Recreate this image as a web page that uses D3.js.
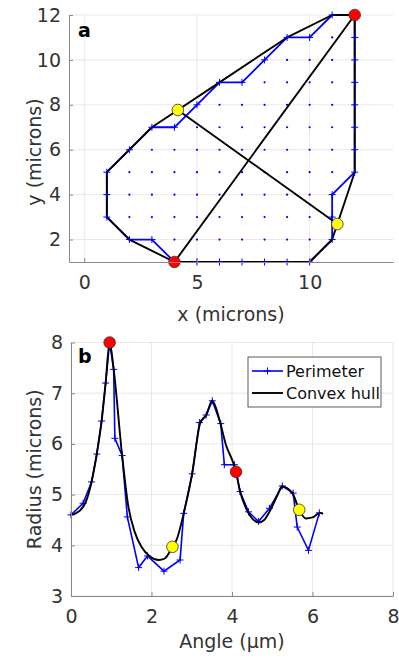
<!DOCTYPE html>
<html>
<head>
<meta charset="utf-8">
<script src="https://cdn.jsdelivr.net/npm/d3@7"></script>
<style>
  body { margin: 0; background: #fff; }
  svg { display: block; font-family: "DejaVu Sans", sans-serif; }
</style>
</head>
<body>
<svg id="chart" width="399" height="660"></svg>
<script>
// ---- panel a: pixel perimeter, hull, chords ----
const perimeterX = [4, 5, 6, 7, 8, 9, 10, 11, 11, 11, 12, 12, 12, 12, 12, 12, 12, 12, 11, 10, 9, 8, 7, 6, 5, 4, 3, 2, 1, 1, 1, 2, 3, 4];
const perimeterY = [1, 1, 1, 1, 1, 1, 1, 2, 3, 4, 5, 6, 7, 8, 9, 10, 11, 12, 12, 11, 11, 10, 9, 9, 8, 7, 7, 6, 5, 4, 3, 2, 2, 1];
const hullX = [4, 10, 11, 12, 12, 11, 9, 6, 3, 1, 1, 2, 4];
const hullY = [1, 1, 2, 5, 12, 12, 11, 9, 7, 5, 3, 2, 1];
// rows of filled pixels: y, first x, last x
const rowY = [1, 2, 3, 4, 5, 6, 7, 8, 9, 10, 11, 12];
const rowStart = [4, 2, 1, 1, 1, 2, 3, 5, 6, 8, 9, 11];
const rowEnd = [10, 11, 11, 11, 12, 12, 12, 12, 12, 12, 12, 12];
const redA = [[4, 1], [12, 12]];
const yellowA = [[4.15, 7.77], [11.23, 2.69]];
const xTicksA = [0, 5, 10];
const yTicksA = [2, 4, 6, 8, 10, 12];

// ---- panel b: radius vs angle ----
const perimAngle = [0.00, 0.30, 0.51, 0.64, 0.76, 0.86, 0.96, 1.06, 1.09, 1.27, 1.40, 1.68, 1.90, 2.31, 2.71, 2.80, 3.01, 3.19, 3.36, 3.51, 3.72, 3.81, 4.06, 4.10, 4.20, 4.41, 4.66, 4.93, 5.25, 5.52, 5.62, 5.90, 6.17];
const perimRadius = [4.60, 4.83, 5.25, 5.80, 6.45, 7.20, 8.00, 7.47, 6.11, 5.77, 4.56, 3.56, 3.79, 3.49, 3.71, 4.63, 5.41, 6.42, 6.57, 6.85, 6.40, 5.59, 5.59, 5.45, 5.06, 4.66, 4.47, 4.73, 5.17, 5.03, 4.36, 3.90, 4.64];
const hullAngle = [0.00, 0.18, 0.36, 0.51, 0.64, 0.76, 0.86, 0.96, 1.06, 1.27, 1.42, 1.58, 1.75, 1.96, 2.18, 2.33, 2.52, 2.62, 2.80, 3.01, 3.21, 3.36, 3.51, 3.69, 3.85, 4.02, 4.10, 4.20, 4.35, 4.50, 4.66, 4.80, 4.93, 5.13, 5.24, 5.50, 5.67, 5.83, 6.00, 6.18, 6.26];
const hullRadius = [4.60, 4.66, 4.84, 5.25, 5.80, 6.45, 7.20, 8.00, 7.47, 5.77, 4.79, 4.27, 3.97, 3.78, 3.71, 3.74, 3.97, 4.10, 4.63, 5.41, 6.41, 6.57, 6.85, 6.47, 5.98, 5.65, 5.45, 5.06, 4.73, 4.53, 4.45, 4.50, 4.66, 4.99, 5.16, 5.03, 4.70, 4.53, 4.55, 4.64, 4.62];
const redB = [[0.96, 8.0], [4.10, 5.45]];
const yellowB = [[2.52, 3.97], [5.67, 4.70]];
const xTicksB = [0, 2, 4, 6, 8];
const yTicksB = [3, 4, 5, 6, 7, 8];
const legendLabels = ['Perimeter', 'Convex hull'];

const blue = '#0000ff';
const gridColor = '#e8e8e8';
const axisColor = '#8a8a8a';
const textColor = '#333';
const fontSize = 19;

const svg = d3.select('#chart');
const plus = 'M-3.5,0H3.5M0,-3.5V3.5';

function drawFrame(g, x, y, xTicks, yTicks, w, h) {
  g.append('g')
    .selectAll('line').data(xTicks).join('line')
    .attr('x1', (d) => x(d)).attr('x2', (d) => x(d))
    .attr('y1', 0).attr('y2', h)
    .attr('stroke', gridColor).attr('stroke-width', 1);
  g.append('g')
    .selectAll('line').data(yTicks).join('line')
    .attr('x1', 0).attr('x2', w)
    .attr('y1', (d) => y(d)).attr('y2', (d) => y(d))
    .attr('stroke', gridColor).attr('stroke-width', 1);
}

function drawAxes(g, x, y, xTicks, yTicks, h) {
  const xAxis = g.append('g').attr('transform', `translate(0,${h})`)
    .call(d3.axisBottom(x).tickValues(xTicks).tickFormat(d3.format('d'))
      .tickSizeInner(-4).tickSizeOuter(0).tickPadding(14));
  const yAxis = g.append('g')
    .call(d3.axisLeft(y).tickValues(yTicks).tickFormat(d3.format('d'))
      .tickSizeInner(-4).tickSizeOuter(0).tickPadding(8));
  [xAxis, yAxis].forEach((a) => {
    a.select('.domain').attr('stroke', axisColor);
    a.selectAll('.tick line').attr('stroke', axisColor);
    a.selectAll('.tick text')
      .attr('fill', textColor)
      .attr('font-size', fontSize)
      .attr('font-family', '"DejaVu Sans", sans-serif');
  });
}

function drawDots(g, pts, fill, x, y) {
  g.append('g').selectAll('circle').data(pts).join('circle')
    .attr('cx', (d) => x(d[0])).attr('cy', (d) => y(d[1]))
    .attr('r', 5.8)
    .attr('fill', fill)
    .attr('stroke', '#333').attr('stroke-width', 0.8);
}

// ---------- panel a ----------
{
  const left = 69, right = 393, top = 15, bottom = 262;
  const w = right - left, h = bottom - top;
  const x = d3.scaleLinear().domain([-0.68, 13.7]).range([0, w]);
  const y = d3.scaleLinear().domain([1, 12]).range([h, 0]);
  const g = svg.append('g').attr('transform', `translate(${left},${top})`);

  drawFrame(g, x, y, xTicksA, yTicksA, w, h);

  const cells = [];
  rowY.forEach((ry, i) => {
    for (let cx = rowStart[i]; cx <= rowEnd[i]; cx++) cells.push([cx, ry]);
  });
  g.append('g').selectAll('circle').data(cells).join('circle')
    .attr('cx', (d) => x(d[0])).attr('cy', (d) => y(d[1]))
    .attr('r', 1.1).attr('fill', blue);

  const perim = perimeterX.map((d, i) => [d, perimeterY[i]]);
  const hull = hullX.map((d, i) => [d, hullY[i]]);
  const line = d3.line().x((d) => x(d[0])).y((d) => y(d[1]));

  g.append('path').datum(perim).attr('d', line)
    .attr('fill', 'none').attr('stroke', blue).attr('stroke-width', 1.8);

  g.append('path').datum(hull).attr('d', line)
    .attr('fill', 'none').attr('stroke', '#000').attr('stroke-width', 1.9)
    .attr('stroke-linejoin', 'round');
  g.append('path').datum(redA).attr('d', line)
    .attr('fill', 'none').attr('stroke', '#000').attr('stroke-width', 1.9);
  g.append('path').datum(yellowA).attr('d', line)
    .attr('fill', 'none').attr('stroke', '#000').attr('stroke-width', 1.9);

  // perimeter markers sit on top of the hull
  g.append('g').selectAll('path').data(perim).join('path')
    .attr('transform', (d) => `translate(${x(d[0])},${y(d[1])})`)
    .attr('d', plus).attr('stroke', blue).attr('stroke-width', 1);

  drawDots(g, redA, '#ff0000', x, y);
  drawDots(g, yellowA, '#ffff00', x, y);

  drawAxes(g, x, y, xTicksA, yTicksA, h);

  g.append('text').attr('x', 9).attr('y', 22)
    .attr('font-size', fontSize).attr('font-weight', 'bold').attr('fill', '#000').text('a');
  svg.append('text').attr('x', left + w / 2).attr('y', 321)
    .attr('text-anchor', 'middle').attr('font-size', fontSize).attr('fill', textColor)
    .text('x (microns)');
  svg.append('text').attr('transform', 'translate(40.5,152) rotate(-90)')
    .attr('text-anchor', 'middle').attr('font-size', fontSize).attr('fill', textColor)
    .text('y (microns)');
}

// ---------- panel b ----------
{
  const left = 71, right = 393, top = 342.5, bottom = 596;
  const w = right - left, h = bottom - top;
  const x = d3.scaleLinear().domain([0, 8]).range([0, w]);
  const y = d3.scaleLinear().domain([3, 8]).range([h, 0]);
  const g = svg.append('g').attr('transform', `translate(${left},${top})`);

  drawFrame(g, x, y, xTicksB, yTicksB, w, h);

  const perim = perimAngle.map((d, i) => [d, perimRadius[i]]);
  const hull = hullAngle.map((d, i) => [d, hullRadius[i]]);

  g.append('path').datum(perim)
    .attr('d', d3.line().x((d) => x(d[0])).y((d) => y(d[1])))
    .attr('fill', 'none').attr('stroke', blue).attr('stroke-width', 1.6);
  g.append('g').selectAll('path').data(perim).join('path')
    .attr('transform', (d) => `translate(${x(d[0])},${y(d[1])})`)
    .attr('d', plus).attr('stroke', blue).attr('stroke-width', 1);

  g.append('path').datum(hull)
    .attr('d', d3.line().curve(d3.curveMonotoneX).x((d) => x(d[0])).y((d) => y(d[1])))
    .attr('fill', 'none').attr('stroke', '#000').attr('stroke-width', 1.9);

  drawDots(g, redB, '#ff0000', x, y);
  drawDots(g, yellowB, '#ffff00', x, y);

  drawAxes(g, x, y, xTicksB, yTicksB, h);

  g.append('text').attr('x', 7).attr('y', 20.5)
    .attr('font-size', fontSize).attr('font-weight', 'bold').attr('fill', '#000').text('b');

  // legend
  const lg = svg.append('g').attr('transform', 'translate(248,357)');
  lg.append('rect').attr('width', 133).attr('height', 50)
    .attr('fill', '#fff').attr('stroke', '#333').attr('stroke-width', 0.8);
  legendLabels.forEach((label, i) => {
    const ly = 14 + i * 22;
    lg.append('line').attr('x1', 4).attr('x2', 35).attr('y1', ly).attr('y2', ly)
      .attr('stroke', i === 0 ? blue : '#000').attr('stroke-width', i === 0 ? 1.6 : 1.9);
    if (i === 0) {
      lg.append('path').attr('transform', `translate(19.5,${ly})`)
        .attr('d', plus).attr('stroke', blue).attr('stroke-width', 1);
    }
    lg.append('text').attr('x', 38).attr('y', ly).attr('dy', '0.36em')
      .attr('font-size', 16).attr('fill', '#111').text(label);
  });

  svg.append('text').attr('x', left + w / 2).attr('y', 648)
    .attr('text-anchor', 'middle').attr('font-size', fontSize).attr('fill', textColor)
    .text('Angle (μm)');
  svg.append('text').attr('transform', `translate(40.5,${top + h / 2}) rotate(-90)`)
    .attr('text-anchor', 'middle').attr('font-size', fontSize).attr('fill', textColor)
    .text('Radius (microns)');
}
</script>
</body>
</html>
